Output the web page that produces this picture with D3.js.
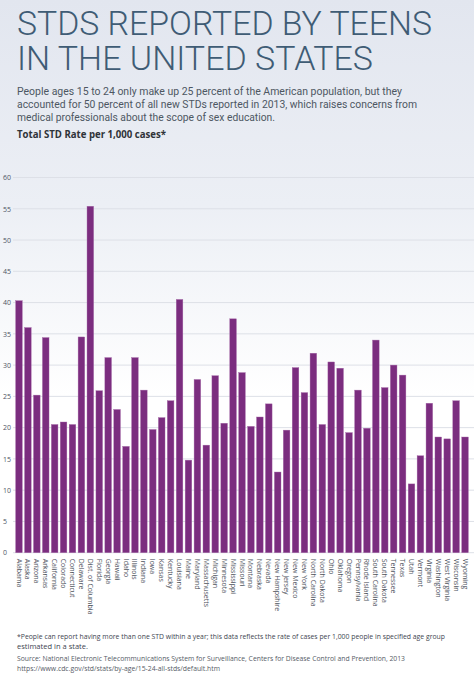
<!DOCTYPE html>
<html><head><meta charset="utf-8">
<script src="https://cdn.jsdelivr.net/npm/d3@7"></script>
<style>html,body{margin:0;padding:0;background:#fff;}svg{display:block;}</style>
</head><body>
<script>
const states = ["Alabama","Alaska","Arizona","Arkansas","California","Colorado","Connecticut","Delaware","Dist. of Columbia","Florida","Georgia","Hawaii","Idaho","Illinois","Indiana","Iowa","Kansas","Kentucky","Louisiana","Maine","Maryland","Massachusetts","Michigan","Minnesota","Mississippi","Missouri","Montana","Nebraska","Nevada","New Hampshire","New Jersey","New Mexico","New York","North Carolina","North Dakota","Ohio","Oklahoma","Oregon","Pennsylvania","Rhode Island","South Carolina","South Dakota","Tennessee","Texas","Utah","Vermont","Virginia","Washington","West Virginia","Wisconsin","Wyoming"];
const rates = [40.3,36.0,25.2,34.4,20.5,20.9,20.5,34.5,55.4,25.9,31.2,22.9,17.0,31.2,26.0,19.7,21.6,24.3,40.5,14.8,27.7,17.2,28.3,20.7,37.4,28.8,20.2,21.7,23.8,12.9,19.6,29.6,25.6,31.9,20.5,30.5,29.5,19.2,26.0,19.9,34.0,26.4,30.0,28.4,11.0,15.5,23.9,18.5,18.2,24.3,18.5];
const yTicks = [0,5,10,15,20,25,30,35,40,45,50,55,60];
const titleLines = ["STDS REPORTED BY TEENS","IN THE UNITED STATES"];
const introLines = ["People ages 15 to 24 only make up 25 percent of the American population, but they","accounted for 50 percent of all new STDs reported in 2013, which raises concerns from","medical professionals about the scope of sex education."];
const chartLabel = "Total STD Rate per 1,000 cases*";
const footLines = ["*People can report having more than one STD within a year; this data reflects the rate of cases per 1,000 people in specified age group","estimated in a state.","Source: National Electronic Telecommunications System for Surveillance, Centers for Disease Control and Prevention, 2013","https://www.cdc.gov/std/stats/by-age/15-24-all-stds/default.htm"];

const W = 474, H = 682;
const svg = d3.select("body").append("svg").attr("width", W).attr("height", H);
const defs = svg.append("defs");
const grad = defs.append("linearGradient").attr("id","bg").attr("x1",0).attr("y1",0).attr("x2",0).attr("y2",1);
grad.append("stop").attr("offset","0%").attr("stop-color","#e2e6ef");
grad.append("stop").attr("offset","30%").attr("stop-color","#eceff5");
grad.append("stop").attr("offset","58%").attr("stop-color","#ffffff");
grad.append("stop").attr("offset","100%").attr("stop-color","#ffffff");
svg.append("rect").attr("width",W).attr("height",H).attr("fill","url(#bg)");

function block(lines, x, ys, widths, attrs) {
  const t = svg.append("text");
  Object.entries(attrs).forEach(([k,v])=>t.attr(k,v));
  lines.forEach((s,i)=>{
    t.append("tspan").attr("x",x).attr("y",ys[i])
      .attr("textLength",widths[i]).attr("lengthAdjust","spacingAndGlyphs").text(s);
  });
  return t;
}

block(titleLines, 17, [35,70], [415,356], {
  "font-family":"Roboto,'Open Sans',sans-serif",
  "font-weight":300, "font-size":34, "fill":"#3f5c75"});

block(introLines, 17, [95,107.8,120.6], [385,400,258], {
  "font-family":"Roboto,'Open Sans',sans-serif", "font-size":10.5, "fill":"#4d5762"});

block([chartLabel], 17, [138], [149], {
  "font-family":"'Open Sans',sans-serif", "font-weight":700, "font-size":10.5, "fill":"#2f3338"});

// Chart
const x = d3.scaleBand().domain(states).range([14.5, 469.5]).paddingInner(0.26).paddingOuter(0.13);
const y = d3.scaleLinear().domain([0,60]).range([552.7, 177.5]);

svg.append("g").selectAll("line").data(yTicks).join("line")
  .attr("x1",13).attr("x2",W).attr("y1",d=>y(d)).attr("y2",d=>y(d))
  .attr("stroke","#dde0e7").attr("stroke-width",1);

const yAxis = svg.append("g").attr("transform","translate(3,0)")
  .call(d3.axisLeft(y).tickValues(yTicks).tickSize(0).tickPadding(0));
yAxis.select(".domain").remove();
yAxis.selectAll("text").attr("text-anchor","start").attr("x",0)
  .attr("font-family","'Open Sans', sans-serif").attr("font-size",7).attr("fill","#4f5565");

svg.append("g").selectAll("rect").data(states).join("rect")
  .attr("x",d=>x(d)).attr("width",x.bandwidth())
  .attr("y",(d,i)=>y(rates[i])).attr("height",(d,i)=>y(0)-y(rates[i]))
  .attr("fill","#7b2d7f").attr("stroke","#a466a6").attr("stroke-width",0.4);

const xAxis = svg.append("g").attr("transform",`translate(0,${y(0)})`)
  .call(d3.axisBottom(x).tickSize(0).tickPadding(0));
xAxis.select(".domain").remove();
xAxis.selectAll("text")
  .attr("font-family","'Open Sans', sans-serif").attr("font-size",7).attr("fill","#4d525c")
  .attr("text-anchor","start").attr("dy","0.35em").attr("y",0)
  .attr("transform","translate(0,6) rotate(90)");

// Footer
block(footLines.slice(0,2), 17, [639,648.5], [428,71], {
  "font-family":"'Open Sans',sans-serif", "font-size":7, "fill":"#3e4550"});
block(footLines.slice(2), 17, [661,671], [388,203], {
  "font-family":"'Open Sans',sans-serif", "font-size":7, "fill":"#555b66"});
</script>
</body></html>
